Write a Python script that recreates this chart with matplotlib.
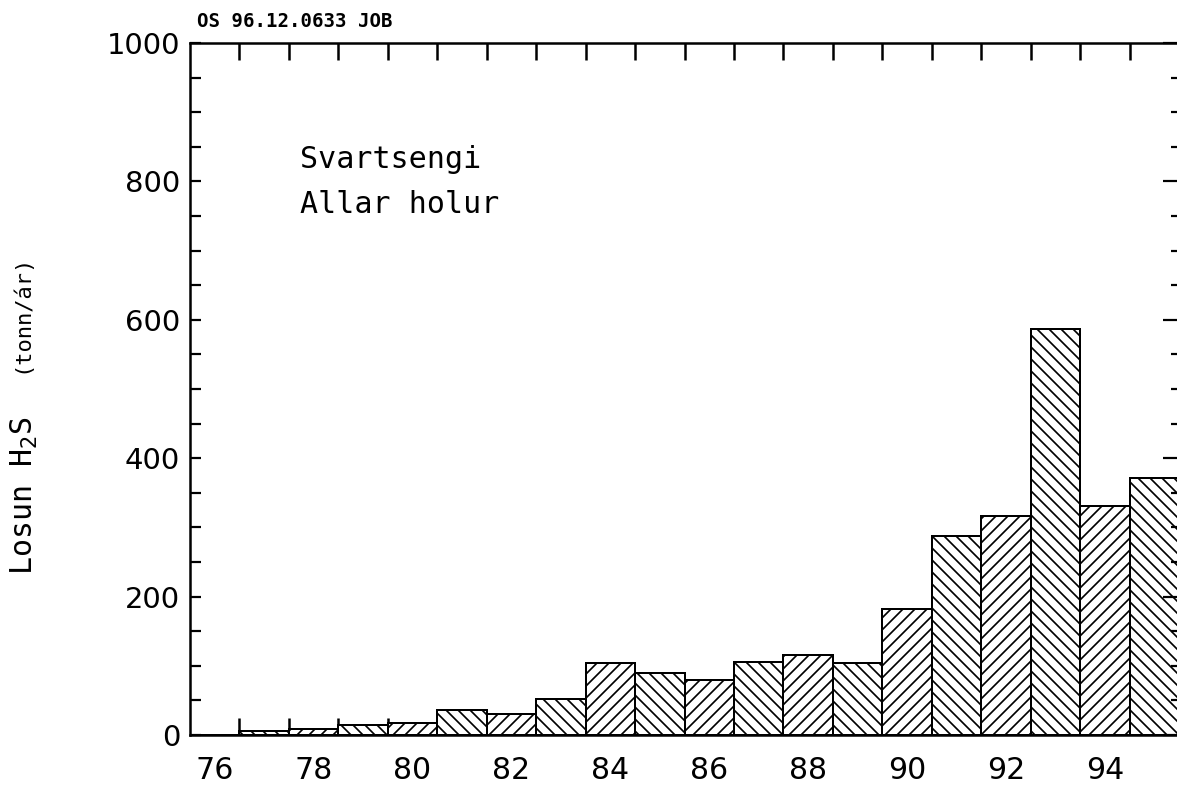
import matplotlib
matplotlib.use('Agg')
import matplotlib.pyplot as plt
from matplotlib.ticker import FixedLocator, MultipleLocator, NullFormatter

# ---- data -------------------------------------------------------------
years = list(range(76, 96))
emission = [0, 6, 8, 14, 18, 36, 30, 52, 104, 89, 79, 106, 116, 104,
            182, 287, 317, 587, 331, 372]
xtick_years = [76, 78, 80, 82, 84, 86, 88, 90, 92, 94]
xtick_labels = ['76', '78', '80', '82', '84', '86', '88', '90', '92', '94']
yticks = [0, 200, 400, 600, 800, 1000]
ytick_labels = ['0', '200', '400', '600', '800', '1000']
title_lines = ['Svartsengi', 'Allar holur']
header = 'OS 96.12.0633 JOB'

# ---- figure -----------------------------------------------------------
W, H = 1177, 790
DPI = 72
plt.rcParams['hatch.linewidth'] = 1.7
plt.rcParams['font.family'] = ['DejaVu Sans']
fig = plt.figure(figsize=(W / DPI, H / DPI), dpi=DPI)
fig.patch.set_facecolor('white')

def fx(px):
    return px / W

def fy(py):
    return 1 - py / H

ax = fig.add_axes([fx(190), fy(735), (1179 - 190) / W, (735 - 43) / H])

hatches = ['//' if y % 2 == 0 else '\\\\' for y in years]
bars = ax.bar(years, emission, width=1.0, color='white', edgecolor='black',
              linewidth=2.0, zorder=2)
for b, h in zip(bars, hatches):
    b.set_hatch(h)

ax.set_xlim(75.5, 95.5)
ax.set_ylim(0, 1000)

for s in ax.spines.values():
    s.set_linewidth(2.5)
    s.set_zorder(5)

# x ticks: labels at bar centres, tick marks at the year boundaries
ax.xaxis.set_major_locator(FixedLocator(xtick_years))
ax.set_xticklabels(xtick_labels)
ax.xaxis.set_minor_locator(FixedLocator([y + 0.5 for y in years[:-1]]))
ax.xaxis.set_minor_formatter(NullFormatter())
ax.tick_params(axis='x', which='major', length=0, pad=21, labelsize=30)
ax.tick_params(axis='x', which='minor', direction='in', length=17, width=2.5,
               top=True, bottom=True)

# y ticks
ax.yaxis.set_major_locator(FixedLocator(yticks))
ax.set_yticklabels(ytick_labels)
ax.yaxis.set_minor_locator(MultipleLocator(50))
ax.tick_params(axis='y', which='both', direction='in', length=11, width=2.2,
               left=True, right=False, labelsize=29, pad=10)

# right-hand ticks (longer at multiples of 200)
ax2 = ax.twinx()
ax2.set_ylim(0, 1000)
ax2.yaxis.set_major_locator(FixedLocator(yticks))
ax2.yaxis.set_minor_locator(MultipleLocator(50))
ax2.tick_params(axis='y', which='major', direction='in', length=16, width=2.2,
                labelright=False)
ax2.tick_params(axis='y', which='minor', direction='in', length=8, width=2.2)
for s in ax2.spines.values():
    s.set_visible(False)

# texts
fig.text(fx(300), fy(168), title_lines[0], fontsize=30,
         family='DejaVu Sans Mono', va='baseline', ha='left')
fig.text(fx(300), fy(213), title_lines[1], fontsize=30,
         family='DejaVu Sans Mono', va='baseline', ha='left')
fig.text(fx(197), fy(27), header, fontsize=19, family='DejaVu Sans Mono',
         fontweight='bold', va='baseline', ha='left')

fig.text(fx(33), fy(575), 'Losun H$_2$S', fontsize=30, rotation=90,
         family='DejaVu Sans Mono', rotation_mode='anchor', ha='left',
         va='baseline')
fig.text(fx(27), fy(373), '(tonn/ár)', fontsize=22, rotation=90,
         family='DejaVu Sans Mono', rotation_mode='anchor', ha='left',
         va='baseline')

fig.savefig('out.png', dpi=DPI, facecolor='white')
